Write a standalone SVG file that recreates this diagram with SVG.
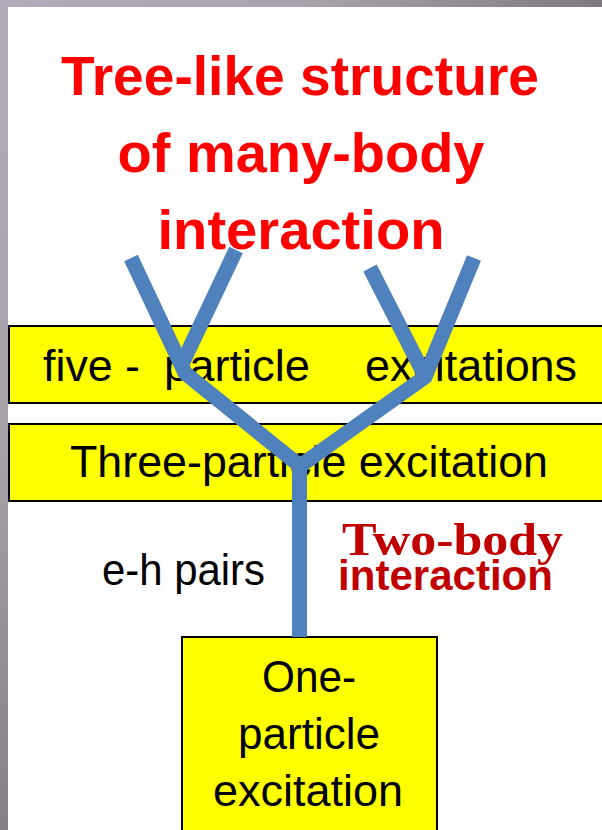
<svg xmlns="http://www.w3.org/2000/svg" width="602" height="830" viewBox="0 0 602 830">
  <defs>
    <linearGradient id="gTop" x1="0" y1="0" x2="1" y2="0">
      <stop offset="0" stop-color="#b3abb9"/>
      <stop offset="0.5" stop-color="#a9a3ad"/>
      <stop offset="1" stop-color="#7f797f"/>
    </linearGradient>
    <linearGradient id="gLeft" x1="0" y1="0" x2="0" y2="1">
      <stop offset="0" stop-color="#b3abb9"/>
      <stop offset="0.5" stop-color="#a9a3ab"/>
      <stop offset="1" stop-color="#858086"/>
    </linearGradient>
  </defs>
  <style>
    .box { fill: #ffff00; stroke: #000000; stroke-width: 2; }
    .lbl { font-family: "Liberation Sans", Arial, sans-serif; font-size: 44px; fill: #000000; }
    .title { font-family: "Liberation Sans", Arial, sans-serif; font-size: 55px; font-weight: bold; fill: #ff0000; text-anchor: middle; }
    .red2 { fill: #c00000; font-weight: bold; }
    .branch { fill: none; stroke: #4f81bd; stroke-width: 15; stroke-linejoin: miter; stroke-linecap: butt; }
  </style>

  <rect x="0" y="0" width="602" height="830" fill="#ffffff"/>
  <rect x="0" y="0" width="602" height="7" fill="url(#gTop)"/>
  <rect x="0" y="0" width="8" height="830" fill="url(#gLeft)"/>

  <g id="title">
    <text class="title" x="300" y="95" textLength="478" lengthAdjust="spacingAndGlyphs">Tree-like structure</text>
    <text class="title" x="301" y="172" textLength="367" lengthAdjust="spacingAndGlyphs">of many-body</text>
    <text class="title" x="301" y="249" textLength="287" lengthAdjust="spacingAndGlyphs">interaction</text>
  </g>

  <g id="five-particle">
    <rect class="box" x="9" y="326" width="598" height="77"/>
    <text class="lbl" x="43" y="381" textLength="97" lengthAdjust="spacingAndGlyphs">five -</text>
    <text class="lbl" x="164" y="381" textLength="146" lengthAdjust="spacingAndGlyphs">particle</text>
    <text class="lbl" x="365" y="381" textLength="212" lengthAdjust="spacingAndGlyphs">excitations</text>
  </g>

  <g id="three-particle">
    <rect class="box" x="9" y="424" width="598" height="77"/>
    <text class="lbl" x="70" y="477" textLength="478" lengthAdjust="spacingAndGlyphs">Three-particle excitation</text>
  </g>

  <g id="eh-pairs">
    <text class="lbl" x="102" y="585" textLength="163" lengthAdjust="spacingAndGlyphs">e-h pairs</text>
  </g>

  <g id="two-body">
    <text x="342" y="555" font-family="'Liberation Serif', 'Times New Roman', serif" font-size="46" class="red2" textLength="221" lengthAdjust="spacingAndGlyphs">Two-body</text>
    <text x="338" y="590" font-family="'Liberation Sans', Arial, sans-serif" font-size="42" class="red2" fill="#b8101c" textLength="215" lengthAdjust="spacingAndGlyphs">interaction</text>
  </g>

  <g id="one-particle">
    <rect class="box" x="182" y="637" width="255" height="200"/>
    <text class="lbl" x="262" y="692" textLength="94" lengthAdjust="spacingAndGlyphs">One-</text>
    <text class="lbl" x="238" y="749" textLength="142" lengthAdjust="spacingAndGlyphs">particle</text>
    <text class="lbl" x="213" y="806" textLength="190" lengthAdjust="spacingAndGlyphs">excitation</text>
  </g>

  <g id="connectors">
    <path class="branch" d="M131,258 L185,373 L300,466"/>
    <path class="branch" d="M236,250 L182,364"/>
    <path class="branch" d="M474,258 L425,377 L300,466"/>
    <path class="branch" d="M370,268 L425,376"/>
    <path class="branch" d="M299.5,462 L299.5,637"/>
  </g>
</svg>
